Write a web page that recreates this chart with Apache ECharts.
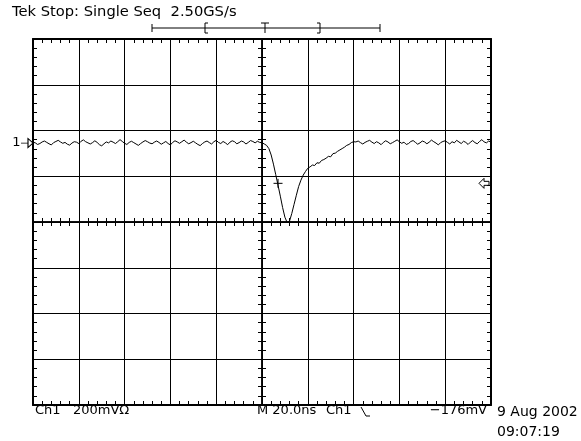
<!DOCTYPE html>
<html>
<head>
<meta charset="utf-8">
<script src="https://cdn.jsdelivr.net/npm/echarts@6/dist/echarts.min.js"></script>
<style>
  html, body { margin: 0; padding: 0; background: #fff; }
  #main { width: 581px; height: 441px; }
</style>
</head>
<body>
<div id="main"></div>
<script>
// time axis (ns): 10 div x 20 ns, trigger at centre
const timeStart = -100;
const timeStep = 1;
// Ch1 samples in mV, relative to the ground marker
const baselineBefore = [
  4, 1, -6, -2, 5, 9, 3, -3, -8, 2,
  7, 12, 5, -1, 3, -5, -9, 0, 6, 4,
  -2, 8, 14, 6, 1, -4, 2, 10, 3, -7,
  -12, -3, 5, 1, 9, 4, -2, 6, 15, 7,
  -1, -6, 3, 8, 2, -4, -10, -2, 5, 11,
  6, 0, -3, 4, 9, 3, -5, 1, 7, -2,
  -8, 3, 10, 5, -1, 6, 13, 4, -3, 2,
  8, 1, -6, -11, -2, 5, 9, 2, -4, 6,
  12, 3, -2, 7, 1, -7, 4, 10, 6, -3,
  2, 9, 5, -4, 3, 11, 7, 1, 8, 3
];
const pulse = [
  2, -4, -10, -24, -52, -92, -138, -184, -232, -282,
  -324, -348, -342, -308, -268, -228, -190, -162, -140, -124,
  -110, -104, -96, -98, -86, -88, -76, -72, -66, -58,
  -60, -46, -44, -36, -30, -24, -18, -10, -6, 2,
  6
];
const baselineAfter = [
  5, 9, 2, -4, 3, 8, 12, 4, -2, 6,
  1, -7, 3, 10, 5, -3, 2, 8, 14, 6,
  -1, 4, -6, -2, 7, 11, 3, -5, 1, 9,
  5, -3, 4, 13, 6, 0, -8, 2, 7, 10,
  3, -4, 6, 1, 12, 5, -2, 8, 3, -6,
  4, 11, 2, -3, 7, 15, 5, 1, 9, 4
];
const triggerLevel = -176;   // mV
const cursorTime = 7;        // ns

const ch1 = baselineBefore.concat(pulse, baselineAfter)
  .map((v, i) => [timeStart + i * timeStep, v]);

const black = '#000';
const font = 'DejaVu Sans';

function frameAxis(extra) {
  return Object.assign({
    type: 'value',
    axisLine: { show: true, onZero: false, lineStyle: { color: black, width: 2 } },
    axisTick: { show: true, inside: true, length: 4, lineStyle: { color: black, width: 1 } },
    minorTick: { show: true, splitNumber: 5, length: 4, lineStyle: { color: black, width: 1 } },
    axisLabel: { show: false },
    splitLine: { show: false }
  }, extra);
}

function centreAxis(inside, extra) {
  return Object.assign({
    type: 'value',
    axisLine: { show: true, onZero: true, onZeroAxisIndex: 0, lineStyle: { color: black, width: 1.5 } },
    axisTick: { show: true, inside: inside, length: 4, lineStyle: { color: black, width: 1 } },
    minorTick: { show: true, splitNumber: 5, length: 4, lineStyle: { color: black, width: 1 } },
    axisLabel: { show: false },
    splitLine: { show: false }
  }, extra);
}

const timeRange = { min: -100, max: 100, interval: 20 };
const divRange = { min: -4, max: 4, interval: 1 };
const gridLine = { show: true, lineStyle: { color: black, width: 1 } };

const chart = echarts.init(document.getElementById('main'));
chart.setOption({
  animation: false,
  backgroundColor: '#fff',
  grid: { left: 33, top: 39, width: 458, height: 366 },
  xAxis: [
    frameAxis(Object.assign({ position: 'bottom', splitLine: gridLine }, timeRange)),
    frameAxis(Object.assign({ position: 'top' }, timeRange)),
    centreAxis(true, Object.assign({ position: 'bottom' }, timeRange)),
    centreAxis(false, Object.assign({ position: 'bottom' }, timeRange))
  ],
  yAxis: [
    frameAxis(Object.assign({ position: 'left', splitLine: gridLine }, divRange)),
    frameAxis(Object.assign({ position: 'right' }, divRange)),
    centreAxis(true, Object.assign({ position: 'left' }, divRange)),
    centreAxis(false, Object.assign({ position: 'left' }, divRange)),
    { type: 'value', show: false, min: -1145, max: 455 }
  ],
  series: [{
    type: 'line',
    xAxisIndex: 0,
    yAxisIndex: 4,
    data: ch1,
    showSymbol: false,
    lineStyle: { color: black, width: 1 },
    silent: true,
    markPoint: {
      silent: true,
      data: [
        {
          coord: [timeStart, 0],
          symbol: 'path://M0,5 L7,5 M7,1 L12,5 L7,9 Z',
          symbolSize: [12, 9],
          symbolOffset: [-6, 0],
          itemStyle: { color: 'transparent', borderColor: black, borderWidth: 1 },
          label: { show: true, position: 'left', formatter: '1', color: black,
                   fontFamily: font, fontSize: 13, distance: 0 }
        },
        {
          coord: [100, triggerLevel],
          symbol: 'path://M0,5 L5,0 L5,3 L10,3 L10,7 L5,7 L5,10 Z',
          symbolSize: [10, 10],
          symbolOffset: [-7, 0],
          itemStyle: { color: 'transparent', borderColor: black, borderWidth: 1 },
          label: { show: false }
        },
        {
          coord: [cursorTime, triggerLevel],
          symbol: 'path://M5,0 L5,10 M0,5 L10,5',
          symbolSize: [9, 9],
          itemStyle: { color: 'transparent', borderColor: black, borderWidth: 1 },
          label: { show: false }
        }
      ]
    }
  }],
  graphic: [
    { type: 'text', left: 12, top: 5,
      style: { text: 'Tek Stop: Single Seq  2.50GS/s', fill: black, font: '14.7px "DejaVu Sans"' } },
    // record-length bar
    { type: 'line', shape: { x1: 152, y1: 28, x2: 380, y2: 28 }, style: { stroke: black, lineWidth: 1 } },
    { type: 'line', shape: { x1: 152, y1: 24, x2: 152, y2: 32 }, style: { stroke: black, lineWidth: 1 } },
    { type: 'line', shape: { x1: 380, y1: 24, x2: 380, y2: 32 }, style: { stroke: black, lineWidth: 1 } },
    { type: 'polyline', shape: { points: [[208, 23], [205, 23], [205, 33], [208, 33]] }, style: { stroke: black, fill: null, lineWidth: 1 } },
    { type: 'polyline', shape: { points: [[317, 23], [320, 23], [320, 33], [317, 33]] }, style: { stroke: black, fill: null, lineWidth: 1 } },
    { type: 'line', shape: { x1: 261, y1: 23, x2: 269, y2: 23 }, style: { stroke: black, lineWidth: 1 } },
    { type: 'line', shape: { x1: 265, y1: 23, x2: 265, y2: 33 }, style: { stroke: black, lineWidth: 1 } },
    // bottom readouts
    { type: 'text', left: 35, top: 404, style: { text: 'Ch1', fill: black, font: '13px "DejaVu Sans"' } },
    { type: 'text', left: 73, top: 404, style: { text: '200mVΩ', fill: black, font: '13px "DejaVu Sans"' } },
    { type: 'text', left: 257, top: 404, style: { text: 'M 20.0ns', fill: black, font: '13px "DejaVu Sans"' } },
    { type: 'text', left: 326, top: 404, style: { text: 'Ch1', fill: black, font: '13px "DejaVu Sans"' } },
    { type: 'polyline', shape: { points: [[361, 407], [366, 416], [370, 416]] }, style: { stroke: black, fill: null, lineWidth: 1 } },
    { type: 'text', right: 94, top: 404, style: { text: '\u2212176mV', fill: black, font: '13px "DejaVu Sans"' } },
    { type: 'text', left: 497, top: 405, style: { text: '9 Aug 2002', fill: black, font: '14px "DejaVu Sans"' } },
    { type: 'text', left: 497, top: 425, style: { text: '09:07:19', fill: black, font: '14px "DejaVu Sans"' } }
  ]
});
</script>
</body>
</html>
